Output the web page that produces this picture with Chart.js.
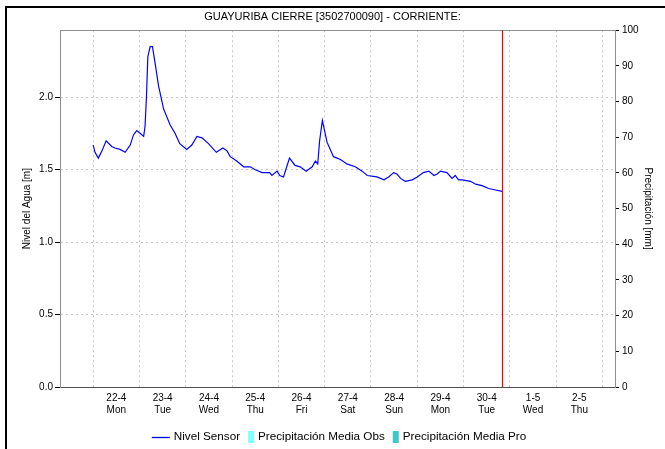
<!DOCTYPE html>
<html>
<head>
<meta charset="utf-8">
<title>Guayuriba Cierre</title>
<script src="https://cdn.jsdelivr.net/npm/chart.js@4.4.0/dist/chart.umd.min.js"></script>
<style>
  body { margin: 0; background: #fff; }
  #wrap { position: relative; width: 665px; height: 449px; overflow: hidden; }
  #frame { position: absolute; left: 5px; top: 6px; width: 700px; height: 500px;
           border-left: 2px solid #000; border-top: 2px solid #000; pointer-events: none; }
</style>
</head>
<body>
<div id="wrap">
  <canvas id="myChart" width="665" height="449"></canvas>
  <div id="frame"></div>
</div>
<script>
'use strict';

// days counted from 22-4 00:00
const sensorDays = [
  0.00, 0.04, 0.11, 0.19, 0.28, 0.40, 0.47, 0.58, 0.69, 0.80,
  0.87, 0.94, 1.02, 1.09, 1.12, 1.15, 1.18, 1.23, 1.28, 1.34,
  1.41, 1.52, 1.66, 1.77, 1.87, 2.02, 2.13, 2.24, 2.35, 2.49,
  2.66, 2.80, 2.89, 2.96, 3.10, 3.25, 3.39, 3.50, 3.65, 3.81,
  3.86, 3.97, 4.03, 4.11, 4.24, 4.36, 4.47, 4.60, 4.73, 4.80,
  4.85, 4.89, 4.95, 5.05, 5.19, 5.34, 5.48, 5.66, 5.81, 5.92,
  6.13, 6.28, 6.38, 6.49, 6.56, 6.64, 6.74, 6.89, 7.00, 7.13,
  7.25, 7.36, 7.43, 7.50, 7.64, 7.75, 7.82, 7.89, 7.97, 8.15,
  8.26, 8.40, 8.54, 8.69, 8.83
];
const sensorLevel = [
  1.67, 1.62, 1.58, 1.63, 1.70, 1.66, 1.65, 1.64, 1.62, 1.67,
  1.74, 1.77, 1.75, 1.73, 1.80, 2.00, 2.28, 2.35, 2.35, 2.23,
  2.08, 1.92, 1.81, 1.75, 1.68, 1.64, 1.67, 1.73, 1.72, 1.68,
  1.62, 1.65, 1.63, 1.59, 1.56, 1.52, 1.52, 1.50, 1.48, 1.48,
  1.46, 1.49, 1.46, 1.45, 1.58, 1.53, 1.52, 1.49, 1.52, 1.56,
  1.54, 1.70, 1.84, 1.69, 1.59, 1.57, 1.54, 1.52, 1.49, 1.46,
  1.45, 1.43, 1.45, 1.48, 1.47, 1.44, 1.42, 1.43, 1.45, 1.48,
  1.49, 1.46, 1.47, 1.49, 1.48, 1.44, 1.46, 1.43, 1.43, 1.42,
  1.40, 1.39, 1.37, 1.36, 1.35
];
const precipObs = [];
const precipPro = [];
const nowDay = 8.84;

const dayLabels = ['22-4', '23-4', '24-4', '25-4', '26-4', '27-4', '28-4', '29-4', '30-4', '1-5', '2-5'];
const weekDays = ['Mon', 'Tue', 'Wed', 'Thu', 'Fri', 'Sat', 'Sun', 'Mon', 'Tue', 'Wed', 'Thu'];

const levelMax = 2.463;
const precipMax = 100;
const dayMin = -0.717;
const dayMax = 11.27;

const FONT = '"Liberation Sans", Arial, sans-serif';
Chart.defaults.font.family = FONT;
Chart.defaults.font.size = 10;
Chart.defaults.color = '#000';

const sensorPoints = sensorDays.map((d, i) => ({ x: d, y: sensorLevel[i] }));

// simple legend row under the axis
const bottomLegend = {
  id: 'bottomLegend',
  afterDraw(chart) {
    const ctx = chart.ctx;
    const items = chart.data.datasets.filter(ds => ds.label);
    ctx.save();
    ctx.font = '11.7px ' + FONT;
    ctx.textBaseline = 'middle';
    const y = 437;
    const widths = items.map(ds => (ds.type === 'line' ? 18 : 6) + 4 + ctx.measureText(ds.label).width);
    const total = widths.reduce((a, b) => a + b, 0) + 8 * (items.length - 1);
    let x = 339 - total / 2;
    items.forEach(ds => {
      if (ds.type === 'line') {
        ctx.strokeStyle = ds.borderColor;
        ctx.lineWidth = 1.3;
        ctx.beginPath();
        ctx.moveTo(x, y + 0.5);
        ctx.lineTo(x + 18, y + 0.5);
        ctx.stroke();
        x += 18;
      } else {
        ctx.fillStyle = ds.backgroundColor;
        ctx.fillRect(x, y - 6, 6, 12);
        x += 6;
      }
      x += 4;
      ctx.fillStyle = '#000';
      ctx.fillText(ds.label, x, y);
      x += ctx.measureText(ds.label).width + 8;
    });
    ctx.restore();
  }
};

const ctx = document.getElementById('myChart').getContext('2d');
const chart = new Chart(ctx, {
  type: 'line',
  data: {
    datasets: [
      {
        type: 'line',
        label: 'Nivel Sensor',
        data: sensorPoints,
        borderColor: '#0000ff',
        borderWidth: 1.2,
        pointRadius: 0,
        tension: 0,
        xAxisID: 'x',
        yAxisID: 'y'
      },
      {
        type: 'bar',
        label: 'Precipitación Media Obs',
        data: precipObs,
        backgroundColor: '#80ffff',
        xAxisID: 'x',
        yAxisID: 'y2'
      },
      {
        type: 'bar',
        label: 'Precipitación Media Pro',
        data: precipPro,
        backgroundColor: '#40c8c8',
        xAxisID: 'x',
        yAxisID: 'y2'
      },
      {
        // current time marker
        type: 'line',
        label: '',
        data: [{ x: nowDay, y: 0 }, { x: nowDay, y: levelMax }],
        borderColor: 'rgb(255, 0, 0)',
        backgroundColor: 'rgb(255, 0, 0)',
        borderWidth: 1.2,
        pointRadius: 0,
        xAxisID: 'x',
        yAxisID: 'y'
      }
    ]
  },
  options: {
    responsive: false,
    animation: false,
    layout: { padding: { left: 0, right: 0, top: 0, bottom: 22 } },
    plugins: {
      legend: { display: false },
      tooltip: { enabled: false },
      title: {
        display: true,
        text: 'GUAYURIBA CIERRE [3502700090] - CORRIENTE:',
        font: { size: 11, weight: 'normal' },
        color: '#000',
        padding: { top: 10, bottom: 7 }
      }
    },
    scales: {
      x: {
        type: 'linear',
        position: 'bottom',
        min: dayMin,
        max: dayMax,
        offset: false,
        grid: { display: false, drawTicks: false, offset: false },
        border: { display: true, color: '#505050', width: 1 },
        ticks: {
          padding: 5,
          font: { size: 10 },
          maxRotation: 0,
          autoSkip: false,
          callback: (value, index) => [dayLabels[index], weekDays[index]]
        },
        afterBuildTicks: scale => {
          scale.ticks = dayLabels.map((l, i) => ({ value: i + 0.5 }));
        },
        afterFit: scale => { scale.height = 40; }
      },
      xGrid: {
        type: 'linear',
        position: 'bottom',
        min: dayMin,
        max: dayMax,
        offset: false,
        grid: { color: '#c8c8c8', drawTicks: false, offset: false },
        border: { display: false, dash: [2, 3] },
        ticks: { display: false },
        afterBuildTicks: scale => {
          scale.ticks = dayLabels.concat(['3-5']).map((l, i) => ({ value: i }));
        },
        afterFit: scale => { scale.height = 0; }
      },
      xTop: {
        type: 'linear',
        position: 'top',
        min: dayMin,
        max: dayMax,
        offset: false,
        grid: { display: false, drawTicks: false },
        border: { display: true, color: '#909090' },
        ticks: { display: false },
        afterFit: scale => { scale.height = 0; }
      },
      y: {
        type: 'linear',
        position: 'left',
        min: 0,
        max: levelMax,
        grid: { color: '#c8c8c8', tickColor: '#000', tickLength: 5, tickBorderDash: [] },
        border: { display: true, color: '#909090', dash: [2, 3] },
        ticks: {
          stepSize: 0.5,
          includeBounds: false,
          padding: 2,
          callback: v => v.toFixed(1)
        },
        title: {
          display: true,
          text: 'Nivel del Agua [m]',
          font: { size: 10 },
          padding: { top: 21, bottom: 0 }
        },
        afterFit: scale => { scale.width = 60; }
      },
      y2: {
        type: 'linear',
        position: 'right',
        min: 0,
        max: precipMax,
        grid: { drawOnChartArea: false, tickColor: '#000', tickLength: 4 },
        border: { display: true, color: '#909090' },
        ticks: { stepSize: 10, padding: 3, includeBounds: false },
        title: {
          display: true,
          text: 'Precipitación [mm]',
          font: { size: 10 },
          padding: { top: 11, bottom: 0 }
        },
        afterFit: scale => { scale.width = 50; }
      }
    }
  },
  plugins: [bottomLegend]
});
</script>
</body>
</html>
